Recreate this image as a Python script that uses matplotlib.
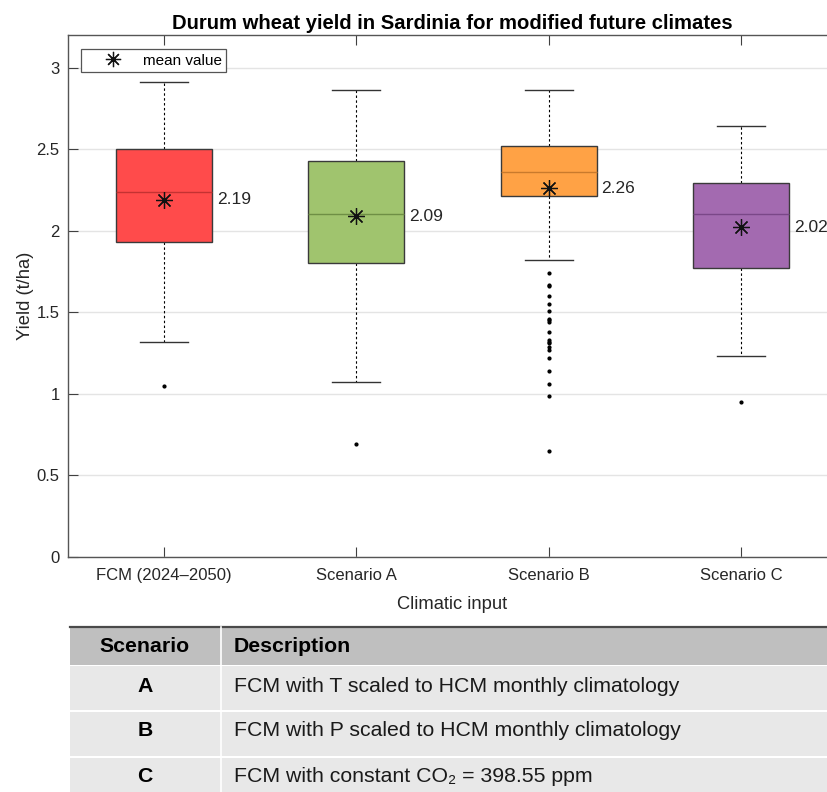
import matplotlib
matplotlib.use("Agg")
import matplotlib.pyplot as plt
from matplotlib.lines import Line2D
from matplotlib.patches import Rectangle

# ---- data -------------------------------------------------------------
categories = ["FCM (2024\u20132050)", "Scenario A", "Scenario B", "Scenario C"]
q1 = [1.93, 1.80, 2.21, 1.77]
medians = [2.24, 2.10, 2.36, 2.10]
q3 = [2.50, 2.43, 2.52, 2.29]
whisker_low = [1.32, 1.07, 1.82, 1.23]
whisker_high = [2.91, 2.86, 2.86, 2.64]
means = [2.19, 2.09, 2.26, 2.02]
outliers = [
    [1.05],
    [0.69],
    [1.74, 1.67, 1.66, 1.60, 1.55, 1.51, 1.46, 1.45, 1.44, 1.38, 1.33,
     1.32, 1.31, 1.29, 1.27, 1.22, 1.14, 1.06, 0.99, 0.65],
    [0.95],
]
fill_colors = ["#FF4B4B", "#A0C46E", "#FFA245", "#A36AB0"]
median_colors = ["#C43232", "#6E8F45", "#C97A2C", "#7A4788"]
y_ticks = [0, 0.5, 1, 1.5, 2, 2.5, 3]

table_header = ["Scenario", "Description"]
table_ids = ["A", "B", "C"]
table_desc = [
    "FCM with T scaled to HCM monthly climatology",
    "FCM with P scaled to HCM monthly climatology",
    "FCM with constant CO\u2082 = 398.55 ppm",
]

# ---- figure -----------------------------------------------------------
W, H = 827, 792
fig = plt.figure(figsize=(W / 100, H / 100), dpi=100)
plot_font = ["Liberation Sans", "DejaVu Sans"]
table_font = ["Liberation Sans", "DejaVu Sans"]
txt_col = "#262626"

# plot axes in pixel terms: left 68, right 837, top 35, bottom 557
ax_l, ax_r, ax_t, ax_b = 68, 837, 35, 557
ax = fig.add_axes([ax_l / W, 1 - ax_b / H, (ax_r - ax_l) / W, (ax_b - ax_t) / H])

stats = []
for i in range(len(categories)):
    stats.append(dict(med=medians[i], q1=q1[i], q3=q3[i],
                      whislo=whisker_low[i], whishi=whisker_high[i],
                      mean=means[i], fliers=outliers[i]))

positions = list(range(1, len(categories) + 1))
art = ax.bxp(stats, positions=positions, widths=0.5, capwidths=0.25,
             patch_artist=True, showmeans=True, showfliers=True,
             boxprops=dict(edgecolor="#3a3a3a", linewidth=1.0),
             whiskerprops=dict(color="black", linewidth=0.8,
                               linestyle=(0, (2.2, 2.2))),
             capprops=dict(color="#333333", linewidth=1.0),
             flierprops=dict(marker="o", markersize=2.0,
                             markerfacecolor="black",
                             markeredgecolor="black", linestyle="none"),
             meanprops=dict(marker=(8, 2, 0), markersize=12,
                            markeredgecolor="#111111",
                            markerfacecolor="#111111",
                            markeredgewidth=0.9, linestyle="none"),
             medianprops=dict(linewidth=1.0))
for patch, fc in zip(art["boxes"], fill_colors):
    patch.set_facecolor(fc)
for med, mc in zip(art["medians"], median_colors):
    med.set_color(mc)
for wl in art["whiskers"]:
    wl.set_zorder(1)

for p, m in zip(positions, means):
    ax.text(p + 0.275, m, f"{m:.2f}", ha="left", va="center",
            fontsize=12.5, color=txt_col, family=plot_font)

ax.set_xlim(0.5, 4.5)
ax.set_ylim(0, 3.2)
ax.set_yticks(y_ticks)
ax.set_yticklabels([f"{t:g}" for t in y_ticks])
ax.set_xticks(positions)
ax.set_xticklabels(categories)
ax.yaxis.grid(True, color="#E4E4E4", linewidth=1.0)
ax.set_axisbelow(True)
ax.tick_params(axis="both", direction="in", length=7, width=0.8,
               color="#404040", labelsize=12, labelcolor=txt_col,
               top=True, right=False)
ax.tick_params(axis="y", pad=6)
ax.tick_params(axis="x", pad=8)
for lab in ax.get_xticklabels() + ax.get_yticklabels():
    lab.set_family(plot_font)
for s in ["left", "bottom", "top", "right"]:
    ax.spines[s].set_color("#555555")
    ax.spines[s].set_linewidth(1.0)

ax.set_xlabel("Climatic input", fontsize=13.2, color=txt_col,
              family=plot_font, labelpad=9)
ax.set_ylabel("Yield (t/ha)", fontsize=13.2, color=txt_col,
              family=plot_font, labelpad=2)
ax.set_title("Durum wheat yield in Sardinia for modified future climates",
             fontsize=14.6, fontweight="bold", family=plot_font, pad=4)

handle = Line2D([], [], marker=(8, 2, 0), markersize=11, linestyle="none",
                markeredgecolor="#111111", markeredgewidth=0.9)
leg = ax.legend([handle], ["mean value"], loc="upper left",
                bbox_to_anchor=((81 - ax_l) / (ax_r - ax_l),
                                (ax_b - 49) / (ax_b - ax_t)),
                borderaxespad=0, fancybox=False, framealpha=1,
                edgecolor="#555555", handlelength=3.6, handletextpad=0.15,
                borderpad=0.3, prop=dict(family=plot_font, size=11))
leg.get_frame().set_linewidth(0.9)

# ---- scenario table ----------------------------------------------------
tax = fig.add_axes([0, 0, 1, 1], zorder=-1)
tax.set_xlim(0, W)
tax.set_ylim(H, 0)
tax.axis("off")

tab_l, tab_r = 70, W + 5
col_split = 221
rows = [(627, 665, "#BFBFBF"), (666, 710, "#E8E8E8"),
        (712, 756, "#E8E8E8"), (758, H + 5, "#E8E8E8")]
for top, bot, col in rows:
    tax.add_patch(Rectangle((tab_l, top), tab_r - tab_l, bot - top,
                            facecolor=col, edgecolor="none"))
tax.plot([tab_l, tab_r], [626.5, 626.5], color="#4a4a4a", lw=1.6)
tax.plot([col_split, col_split], [627, H + 5], color="white", lw=1.2)

tfs = 15.3
tax.text(145, 646, table_header[0], ha="center", va="center",
         fontsize=tfs, fontweight="bold", family=table_font)
tax.text(234, 646, table_header[1], ha="left", va="center",
         fontsize=tfs, fontweight="bold", family=table_font)
row_y = [687, 731, 776]
for y, sid, desc in zip(row_y, table_ids, table_desc):
    tax.text(145, y, sid, ha="center", va="center", fontsize=tfs,
             fontweight="bold", family=table_font)
    tax.text(234, y, desc, ha="left", va="center", fontsize=tfs,
             family=table_font, color="#1a1a1a")

fig.savefig("out.png", dpi=100)
